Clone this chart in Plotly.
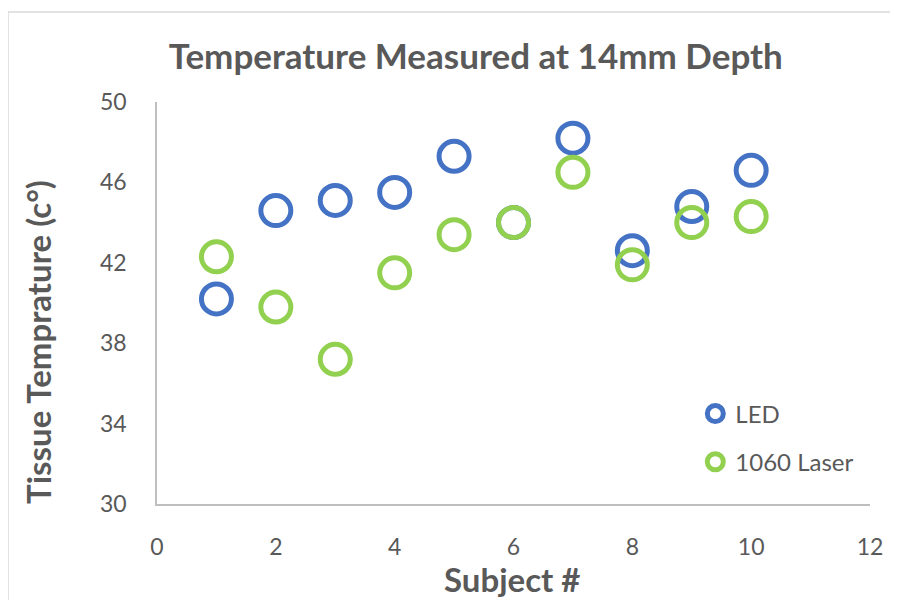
import plotly.graph_objects as go

subjects = [1, 2, 3, 4, 5, 6, 7, 8, 9, 10]
led = [40.2, 44.6, 45.1, 45.5, 47.3, 44.0, 48.2, 42.6, 44.8, 46.6]
laser = [42.3, 39.8, 37.2, 41.5, 43.4, 44.0, 46.5, 41.9, 44.0, 44.3]

FONT = "Lato"
GREY = "#595959"

fig = go.Figure()
fig.add_trace(go.Scatter(x=subjects, y=led, mode="markers", name="LED", legendgroup="a",
                         marker=dict(symbol="circle-open", size=30, color="#4472C4",
                                     line=dict(width=5, color="#4472C4"))))
fig.add_trace(go.Scatter(x=subjects, y=laser, mode="markers", name="1060 Laser", legendgroup="b",
                         marker=dict(symbol="circle-open", size=30, color="#92D050",
                                     line=dict(width=5, color="#92D050"))))

fig.update_layout(
    width=882, height=592,
    paper_bgcolor="white", plot_bgcolor="white",
    margin=dict(l=149, r=20, t=94, b=96, autoexpand=False),
    font=dict(family=FONT, color=GREY, size=23),
    title=dict(text="<b>Temperature Measured at 14mm Depth</b>", xref="paper", x=0.447,
               xanchor="center", y=0.917, yanchor="middle",
               font=dict(size=35, color=GREY, family=FONT)),
    xaxis=dict(range=[0, 12], tickvals=[0, 2, 4, 6, 8, 10, 12], showgrid=False,
               zeroline=False, showline=True, linecolor="#BFBFBF", linewidth=1.5,
               automargin=False,
               ticks="", ticklabelstandoff=22, tickfont=dict(size=23, color=GREY)),
    yaxis=dict(range=[30, 50], tickvals=[30, 34, 38, 42, 46, 50], showgrid=False,
               zeroline=False, showline=True, linecolor="#BFBFBF", linewidth=1.5,
               automargin=False,
               ticks="", ticklabelstandoff=24, tickfont=dict(size=23, color=GREY)),
    annotations=[
        dict(text="<b>Tissue Temprature (c°)</b>", textangle=-90, xref="paper", yref="paper",
             x=-0.167, y=0.403, xanchor="center", yanchor="middle", showarrow=False,
             font=dict(size=33, color=GREY, family=FONT)),
        dict(text="<b>Subject #</b>", xref="paper", yref="paper",
             x=0.498, y=-0.2385, xanchor="center", yanchor="bottom", showarrow=False,
             borderpad=0, font=dict(size=33, color=GREY, family=FONT)),
    ],
    legend=dict(x=0.755, y=0.28, xanchor="left", yanchor="top", bgcolor="rgba(0,0,0,0)",
                font=dict(size=24, color=GREY), itemsizing="trace", tracegroupgap=14,
                itemwidth=30),
    shapes=[dict(type="rect", xref="paper", yref="paper", x0=-0.209, x1=1.2, y0=-0.4, y1=1.224,
                 line=dict(color="#D9D9D9", width=1.5), layer="below")],
)

fig.write_html("out.html")
